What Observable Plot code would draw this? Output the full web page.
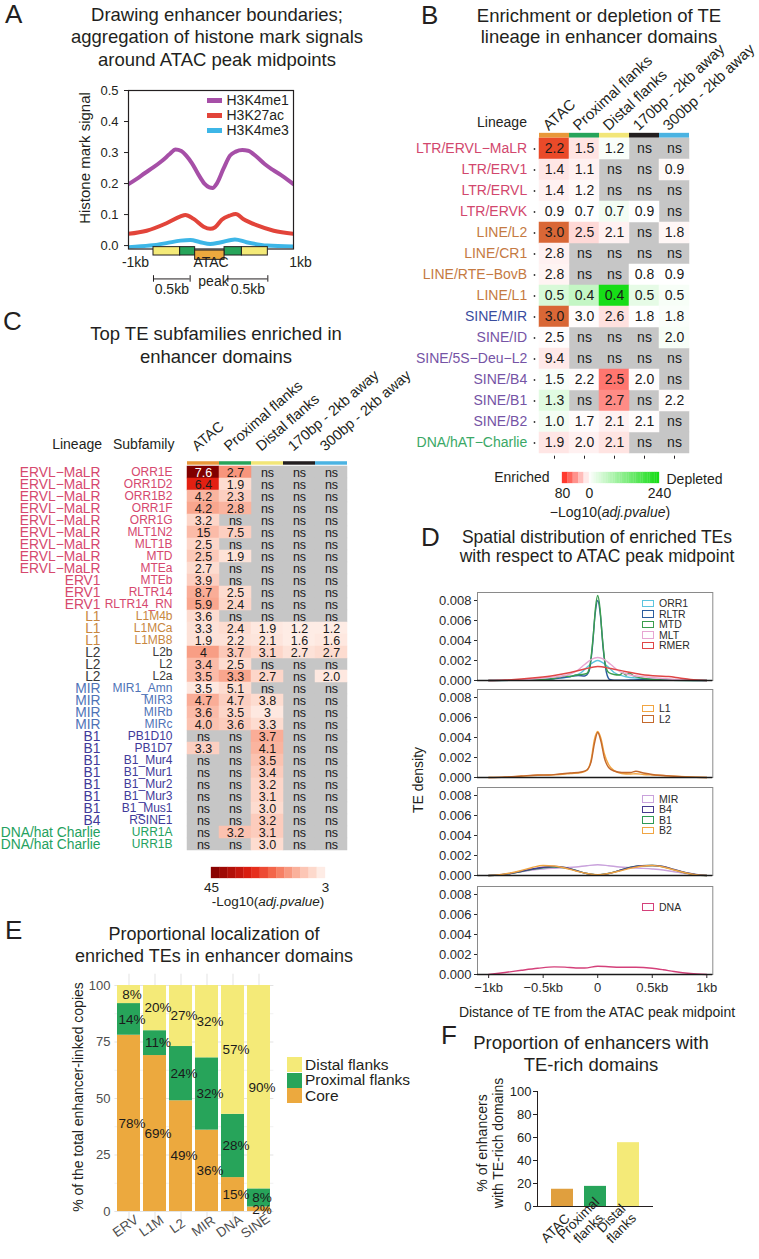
<!DOCTYPE html>
<html>
<head>
<meta charset="utf-8">
<script src="https://cdn.jsdelivr.net/npm/d3@7"></script>
<script src="https://cdn.jsdelivr.net/npm/@observablehq/plot@0.6"></script>
<style>
  html, body { margin: 0; padding: 0; background: #fff; }
  #fig { position: relative; width: 759px; height: 1259px; overflow: hidden; background: #fff;
         font-family: "Liberation Sans", Arial, Helvetica, sans-serif; color: #231f20; }
  #fig .lbl { position: absolute; white-space: nowrap; }
  #fig .holder { position: absolute; }
  #fig .holder svg { display: block; overflow: visible; }
</style>
</head>
<body>
<div id="fig"></div>
<script>
// ======================= DATA =======================
// --- Panel A: aggregate histone mark signal (x in kb from ATAC midpoint)
const me1X = [-1, -0.9, -0.8, -0.7, -0.6, -0.5, -0.43, -0.36, -0.3, -0.23, -0.15, -0.08, -0.02, 0.02, 0.07, 0.15, 0.23, 0.3, 0.38, 0.45, 0.55, 0.65, 0.75, 0.85, 0.93, 1];
const me1Y = [0.198, 0.215, 0.234, 0.252, 0.272, 0.295, 0.31, 0.305, 0.29, 0.265, 0.228, 0.2, 0.188, 0.186, 0.2, 0.247, 0.29, 0.303, 0.308, 0.306, 0.287, 0.263, 0.244, 0.227, 0.212, 0.198];
const k27X = [-1, -0.78, -0.54, -0.37, -0.31, -0.21, -0.09, -0.01, 0.05, 0.13, 0.23, 0.3, 0.39, 0.56, 0.76, 1];
const k27Y = [0.038, 0.048, 0.072, 0.094, 0.099, 0.086, 0.061, 0.054, 0.059, 0.083, 0.097, 0.102, 0.086, 0.065, 0.048, 0.038];
const me3X = [-1, -0.74, -0.54, -0.37, -0.25, -0.13, -0.01, 0.11, 0.29, 0.43, 0.68, 1];
const me3Y = [-0.005, 0, 0.008, 0.016, 0.018, 0.011, 0.005, 0.01, 0.02, 0.011, 0, -0.003];
const ticksYA = [0, 0.1, 0.2, 0.3, 0.4, 0.5];
const ticksXA = [-1, 1];
const tickLabelsA = ["-1kb", "1kb"];
// enhancer domain segments drawn under panel A (kb)
const segStartA = [-0.697, -0.374, -0.192, 0.164, 0.374];
const segEndA   = [-0.374, -0.192, 0.164, 0.374, 0.689];
const segPartA  = ["Distal", "Proximal", "Core", "Proximal", "Distal"];
const scaleBarStartA = [-0.697, 0.204];
const scaleBarEndA   = [-0.253, 0.689];

// --- Panel B: TE lineage enrichment heatmap
const colsB = ["ATAC", "Proximal flanks", "Distal flanks", "170bp - 2kb away", "300bp - 2kb away"];
const lineagesB = ["LTR/ERVL\u2212MaLR", "LTR/ERV1", "LTR/ERVL", "LTR/ERVK", "LINE/L2", "LINE/CR1", "LINE/RTE\u2212BovB", "LINE/L1",
  "SINE/MIR", "SINE/ID", "SINE/5S\u2212Deu\u2212L2", "SINE/B4", "SINE/B1", "SINE/B2", "DNA/hAT\u2212Charlie"];
const labelsB = [
  ["2.2", "1.5", "1.2", "ns", "ns"],
  ["1.4", "1.1", "ns", "ns", "0.9"],
  ["1.4", "1.2", "ns", "ns", "ns"],
  ["0.9", "0.7", "0.7", "0.9", "ns"],
  ["3.0", "2.5", "2.1", "ns", "1.8"],
  ["2.8", "ns", "ns", "ns", "ns"],
  ["2.8", "ns", "ns", "0.8", "0.9"],
  ["0.5", "0.4", "0.4", "0.5", "0.5"],
  ["3.0", "3.0", "2.6", "1.8", "1.8"],
  ["2.5", "ns", "ns", "ns", "2.0"],
  ["9.4", "ns", "ns", "ns", "ns"],
  ["1.5", "2.2", "2.5", "2.0", "ns"],
  ["1.3", "ns", "2.7", "ns", "2.2"],
  ["1.0", "1.7", "2.1", "2.1", "ns"],
  ["1.9", "2.0", "2.1", "ns", "ns"]
];
// signed -log10(adj.pvalue): positive = enriched, negative = depleted, null = ns
const scoresB = [
  [140, 10, -6, null, null],
  [9, 5, null, null, 2],
  [5, 2, null, null, null],
  [1, 0, -12, 0, null],
  [185, 14, 5, null, 3],
  [5, null, null, null, null],
  [4, null, null, 0, 0],
  [-40, -60, -235, -25, -8],
  [185, 1, 11, 0, -5],
  [1, null, null, null, -8],
  [8, null, null, null, null],
  [-6, 1, 50, 1, null],
  [-30, null, 42, null, 1],
  [-12, 1, 5, 1, null],
  [9, 5, 10, null, null]
];
const legendTicksB = [80, 0, -240];

// --- Panel C: top TE subfamilies
const lineageC = ["ERVL\u2212MaLR", "ERVL\u2212MaLR", "ERVL\u2212MaLR", "ERVL\u2212MaLR", "ERVL\u2212MaLR", "ERVL\u2212MaLR", "ERVL\u2212MaLR", "ERVL\u2212MaLR", "ERVL\u2212MaLR",
  "ERV1", "ERV1", "ERV1", "L1", "L1", "L1", "L2", "L2", "L2", "MIR", "MIR", "MIR", "MIR",
  "B1", "B1", "B1", "B1", "B1", "B1", "B1", "B4", "DNA/hat Charlie", "DNA/hat Charlie"];
const subfamC = ["ORR1E", "ORR1D2", "ORR1B2", "ORR1F", "ORR1G", "MLT1N2", "MLT1B", "MTD", "MTEa", "MTEb", "RLTR14", "RLTR14_RN",
  "L1M4b", "L1MCa", "L1MB8", "L2b", "L2", "L2a", "MIR1_Amn", "MIR3", "MIRb", "MIRc",
  "PB1D10", "PB1D7", "B1_Mur4", "B1_Mur1", "B1_Mur2", "B1_Mur3", "B1_Mus1", "RSINE1", "URR1A", "URR1B"];
const colsC = colsB;
const labelsC = [
  ["7.6", "2.7", "ns", "ns", "ns"], ["6.4", "1.9", "ns", "ns", "ns"], ["4.2", "2.3", "ns", "ns", "ns"], ["4.2", "2.8", "ns", "ns", "ns"],
  ["3.2", "ns", "ns", "ns", "ns"], ["15", "7.5", "ns", "ns", "ns"], ["2.5", "ns", "ns", "ns", "ns"], ["2.5", "1.9", "ns", "ns", "ns"],
  ["2.7", "ns", "ns", "ns", "ns"], ["3.9", "ns", "ns", "ns", "ns"], ["8.7", "2.5", "ns", "ns", "ns"], ["5.9", "2.4", "ns", "ns", "ns"],
  ["3.6", "ns", "ns", "ns", "ns"], ["3.3", "2.4", "1.9", "1.2", "1.2"], ["1.9", "2.2", "2.1", "1.6", "1.6"],
  ["4", "3.7", "3.1", "2.7", "2.7"], ["3.4", "2.5", "ns", "ns", "ns"], ["3.5", "3.3", "2.7", "ns", "2.0"],
  ["3.5", "5.1", "ns", "ns", "ns"], ["4.7", "4.7", "3.8", "ns", "ns"], ["3.6", "3.5", "3", "ns", "ns"], ["4.0", "3.6", "3.3", "ns", "ns"],
  ["ns", "ns", "3.7", "ns", "ns"], ["3.3", "ns", "4.1", "ns", "ns"], ["ns", "ns", "3.5", "ns", "ns"], ["ns", "ns", "3.4", "ns", "ns"],
  ["ns", "ns", "3.2", "ns", "ns"], ["ns", "ns", "3.1", "ns", "ns"], ["ns", "ns", "3.0", "ns", "ns"], ["ns", "ns", "3.2", "ns", "ns"],
  ["ns", "3.2", "3.1", "ns", "ns"], ["ns", "ns", "3.0", "ns", "ns"]
];
// -log10(adj.pvalue) read from the cell shading (null = ns)
const scoresC = [
  [45, 17, null, null, null], [30, 7, null, null, null], [13, 9, null, null, null], [15, 13, null, null, null],
  [8, null, null, null, null], [12, 9, null, null, null], [8, null, null, null, null], [10, 6, null, null, null],
  [7, null, null, null, null], [9, null, null, null, null], [14, 7, null, null, null], [15, 8, null, null, null],
  [7, null, null, null, null], [6, 7, 5, 4.5, 4.5], [6, 6, 5.5, 4.5, 5],
  [16, 10, 8, 6, 7], [12, 7, null, null, null], [12, 15, 8, null, 5],
  [5, 7, null, null, null], [14, 9, 7, null, null], [12, 8, 5, null, null], [11, 9.5, 7, null, null],
  [null, null, 14, null, null], [9, null, 13, null, null], [null, null, 11, null, null], [null, null, 9.5, null, null],
  [null, null, 8, null, null], [null, null, 8, null, null], [null, null, 7, null, null], [null, null, 9.5, null, null],
  [null, 11, 9.5, null, null], [null, null, 7, null, null]
];
const legendTicksC = [45, 3];

// --- Panel D: TE density around the ATAC midpoint (x in kb, density in 1e-3)
const orr1X = [-1, -0.6, -0.4, -0.25, -0.15, -0.08, 0, 0.08, 0.15, 0.25, 0.4, 0.6, 1];
const orr1Y = [0, 0.05, 0.2, 0.4, 0.8, 1.5, 2.0, 1.5, 0.8, 0.4, 0.2, 0.05, 0];
const rltrX = [-1, -0.6, -0.45, -0.35, -0.25, -0.18, -0.12, -0.08, -0.05, -0.025, 0, 0.025, 0.05, 0.08, 0.11, 0.15, 0.3, 0.5, 0.7, 1];
const rltrY = [0, 0.02, 0.1, 0.25, 0.4, 0.5, 0.45, 0.9, 3.2, 6.5, 8.0, 6.5, 3.2, 0.8, 0.1, 0.02, 0.05, 0.1, 0.05, 0];
const mtdX = [-1, -0.6, -0.5, -0.4, -0.35, -0.3, -0.25, -0.2, -0.15, -0.1, -0.07, -0.04, -0.02, 0, 0.02, 0.04, 0.07, 0.1, 0.15, 0.2, 0.23, 0.26, 0.29, 0.33, 0.4, 0.5, 0.6, 1];
const mtdY = [0, 0.05, 0.1, 0.2, 0.35, 0.45, 0.4, 0.55, 0.6, 0.7, 1.6, 4.6, 7.3, 8.5, 7.3, 4.6, 1.6, 0.8, 0.6, 0.55, 0.75, 0.55, 0.75, 0.45, 0.25, 0.1, 0.05, 0];
const mltX = [-1, -0.8, -0.6, -0.45, -0.3, -0.2, -0.12, -0.06, 0, 0.06, 0.12, 0.2, 0.3, 0.45, 0.6, 0.8, 1];
const mltY = [0, 0.05, 0.15, 0.3, 0.5, 0.9, 1.6, 2.1, 2.3, 2.1, 1.6, 0.9, 0.55, 0.35, 0.2, 0.05, 0];
const rmerX = [-1, -0.85, -0.7, -0.55, -0.4, -0.25, -0.12, 0, 0.12, 0.25, 0.4, 0.55, 0.65, 0.75, 0.85, 1];
const rmerY = [0, 0.05, 0.15, 0.3, 0.5, 0.8, 1.15, 1.4, 1.2, 0.9, 0.6, 0.45, 0.4, 0.25, 0.1, 0];
const l1X = [-1, -0.85, -0.7, -0.55, -0.45, -0.35, -0.25, -0.15, -0.1, -0.06, -0.03, 0, 0.03, 0.06, 0.1, 0.15, 0.22, 0.3, 0.35, 0.42, 0.5, 0.6, 0.7, 0.8, 0.9, 1];
const l1Y = [0, 0.04, 0.12, 0.22, 0.25, 0.3, 0.4, 0.5, 0.7, 1.8, 3.8, 4.6, 3.9, 2.4, 1.3, 0.7, 0.4, 0.35, 0.38, 0.3, 0.25, 0.2, 0.12, 0.08, 0.03, 0];
const l2X = [-1, -0.85, -0.7, -0.55, -0.45, -0.35, -0.25, -0.15, -0.1, -0.06, -0.03, 0, 0.03, 0.06, 0.1, 0.15, 0.22, 0.3, 0.35, 0.42, 0.5, 0.6, 0.7, 0.8, 0.9, 1];
const l2Y = [0, 0.05, 0.15, 0.25, 0.25, 0.35, 0.45, 0.55, 0.75, 1.6, 3.4, 4.5, 3.6, 2.0, 1.0, 0.65, 0.5, 0.5, 0.62, 0.45, 0.3, 0.2, 0.12, 0.06, 0.02, 0];
const gridD = [-1, -0.9, -0.8, -0.7, -0.6, -0.5, -0.4, -0.3, -0.2, -0.1, 0, 0.1, 0.2, 0.3, 0.4, 0.5, 0.6, 0.7, 0.8, 0.9, 1];
const mirY = [0, 0.08, 0.2, 0.38, 0.55, 0.65, 0.72, 0.78, 0.85, 0.98, 1.08, 0.98, 0.85, 0.78, 0.72, 0.65, 0.55, 0.38, 0.2, 0.08, 0];
const b4Y  = [0, 0.05, 0.2, 0.42, 0.65, 0.82, 0.9, 0.8, 0.5, 0.2, 0.05, 0.2, 0.5, 0.8, 0.97, 1.0, 0.9, 0.6, 0.3, 0.1, 0];
const b1Y  = [0, 0.05, 0.2, 0.4, 0.62, 0.78, 0.85, 0.78, 0.5, 0.2, 0.06, 0.2, 0.5, 0.82, 0.98, 1.0, 0.88, 0.58, 0.28, 0.08, 0];
const b2Y  = [0, 0.08, 0.25, 0.5, 0.8, 1.0, 0.95, 0.75, 0.45, 0.2, 0.08, 0.2, 0.45, 0.72, 0.93, 1.0, 0.85, 0.55, 0.28, 0.08, 0];
const dnaX = [-1, -0.85, -0.7, -0.55, -0.4, -0.3, -0.2, -0.12, 0, 0.1, 0.2, 0.35, 0.5, 0.6, 0.7, 0.85, 1];
const dnaY = [0, 0.2, 0.42, 0.62, 0.76, 0.74, 0.65, 0.65, 0.83, 0.78, 0.72, 0.73, 0.63, 0.48, 0.3, 0.1, 0];
const ticksYD = [0, 2, 4, 6, 8];
const ticksXD = [-1, -0.5, 0, 0.5, 1];
const tickLabelsXD = ["\u22121kb", "\u22120.5kb", "0", "0.5kb", "1kb"];

// --- Panel E: proportional localization (%)
const catsE = ["ERV", "L1M", "L2", "MIR", "DNA", "SINE"];
const coreE = [78, 69, 49, 36, 15, 2];
const proxE = [14, 11, 24, 32, 28, 8];
const distalE = [8, 20, 27, 32, 57, 90];
const partsE = ["Core", "Proximal flanks", "Distal flanks"];
const ticksYE = [0, 25, 50, 75, 100];

// --- Panel F: proportion of enhancers with TE-rich domains (%)
const catsF = ["ATAC", "Proximal flanks", "Distal flanks"];
const tickTextF = ["ATAC", "Proximal\nflanks", "Distal\nflanks"];
const valuesF = [15, 17.5, 55.5];
const ticksYF = [0, 20, 40, 60, 80, 100];

// ======================= STYLE / HELPERS =======================
const FONT = '"Liberation Sans", Arial, Helvetica, sans-serif';
const INK = "#231f20";
const fig = document.getElementById("fig");
const ST = (fs, color = INK) => ({fontFamily: FONT, fontSize: fs + "px", color, background: "transparent", overflow: "visible"});
const DOMAIN_COLORS = {Core: "#eca93e", Proximal: "#27a45a", Distal: "#f4ea78"};
const STRIP_COLORS = ["#e8983a", "#27a45a", "#f2e678", "#231f20", "#4bb3e2"];
const NS_GRAY = "#c6c6c6";

function place(node, left, top, width) {
  const h = document.createElement("div");
  h.className = "holder";
  h.style.left = left + "px"; h.style.top = top + "px"; h.style.width = width + "px";
  h.appendChild(node);
  fig.appendChild(h);
}
function label(html, x, y, o = {}) {
  const {size = 14, anchor = "middle", rotate = 0, color = INK, lh = 1.2} = o;
  const el = document.createElement("div");
  el.className = "lbl";
  el.innerHTML = html;
  const tx = anchor === "middle" ? "-50%" : anchor === "end" ? "-100%" : "0%";
  el.style.left = x + "px"; el.style.top = y + "px";
  el.style.fontSize = size + "px";
  el.style.lineHeight = typeof lh === "number" && lh < 4 ? String(lh) : lh + "px";
  el.style.color = color;
  el.style.textAlign = anchor === "middle" ? "center" : anchor === "end" ? "right" : "left";
  el.style.transform = `translate(${tx}, -50%)` + (rotate ? ` rotate(${rotate}deg)` : "");
  fig.appendChild(el);
}
function box(x, y, w, h, css) {
  const el = document.createElement("div");
  el.style.cssText = `position:absolute;left:${x}px;top:${y}px;width:${w}px;height:${h}px;box-sizing:border-box;${css}`;
  fig.appendChild(el);
}
const pts = (xs, ys) => xs.map((x, i) => ({x, y: ys[i]}));

// ======================= PANEL A =======================
{
  const segs = segStartA.map((s, i) => ({x1: s, x2: segEndA[i], part: segPartA[i]}));
  const bars = scaleBarStartA.map((s, i) => ({x1: s, x2: scaleBarEndA[i]}));
  const lineOpts = {x: "x", y: "y", strokeWidth: 4, curve: "monotone-x", clip: true};
  const p = Plot.plot({
    width: 260, height: 230, marginLeft: 68, marginRight: 27, marginTop: 10, marginBottom: 61.5,
    style: ST(13),
    x: {domain: [-1, 1], axis: null},
    y: {domain: [-0.011, 0.5], ticks: ticksYA, tickFormat: d3.format(".1f"), tickSize: 4, tickPadding: 6, label: null},
    marks: [
      Plot.line(pts(me3X, me3Y), {...lineOpts, stroke: "#3db6e7"}),
      Plot.line(pts(k27X, k27Y), {...lineOpts, stroke: "#e2443a"}),
      Plot.line(pts(me1X, me1Y), {...lineOpts, stroke: "#a64fa7"}),
      Plot.frame({stroke: INK, strokeWidth: 1.2}),
      ...["Distal", "Proximal"].map(part => Plot.rect(segs.filter(d => d.part === part),
        {x1: "x1", x2: "x2", y1: () => -0.005, y2: () => -0.032, fill: DOMAIN_COLORS[part], stroke: INK, strokeWidth: 1})),
      Plot.rect(segs.filter(d => d.part === "Core"),
        {x1: "x1", x2: "x2", y1: () => -0.016, y2: () => -0.046, fill: DOMAIN_COLORS.Core, stroke: INK, strokeWidth: 1}),
      Plot.text(tickLabelsA, {x: ticksXA, text: d => d, frameAnchor: "bottom", dy: 18, dx: 7, fontSize: 14}),
      Plot.text(["ATAC"], {x: () => 0, text: d => d, frameAnchor: "bottom", dy: 18, fontSize: 14}),
      Plot.text(["peak"], {x: () => 0.03, text: d => d, frameAnchor: "bottom", dy: 36.5, fontSize: 14}),
      Plot.ruleY(bars, {x1: "x1", x2: "x2", y: () => -0.1075, stroke: INK, strokeWidth: 1}),
      Plot.ruleX([...scaleBarStartA, ...scaleBarEndA], {x: d => d, y1: () => -0.097, y2: () => -0.118, stroke: INK, strokeWidth: 1}),
      Plot.text(bars, {x: d => (d.x1 + d.x2) / 2, text: () => "0.5kb", frameAnchor: "bottom", dy: 44.5, fontSize: 14})
    ]
  });
  place(p, 60, 80, 260);
  label("A", 5, 15, {size: 26, anchor: "start"});
  label("Drawing enhancer boundaries;<br>aggregation of histone mark signals<br>around ATAC peak midpoints", 217, 37.5, {size: 18.5, lh: 22.5});
  label("Histone mark signal", 85, 158, {size: 15, rotate: -90});
  [["H3K4me1", "#a64fa7", 100], ["H3K27ac", "#e2443a", 115], ["H3K4me3", "#3db6e7", 130]].forEach(([t, c, y]) => {
    box(207, y - 2, 15, 4.5, `background:${c};`);
    label(t, 226.5, y, {size: 14, anchor: "start"});
  });
}

// ======================= PANEL B =======================
const colorB = {type: "linear", domain: [-240, 0, 80, 200], range: ["#12dc12", "#ffffff", "#ff2418", "#d4703a"], interpolate: "rgb", clamp: true};
{
  const rowH = 21.33;
  const cells = lineagesB.flatMap((r, i) => colsB.map((c, j) => ({row: r, col: c, label: labelsB[i][j], score: scoresB[i][j]})));
  const classColor = name => name.startsWith("LTR") ? "#d2476d" : name.startsWith("LINE") ? "#c57a42"
    : name === "SINE/MIR" ? "#3a4c9e" : name.startsWith("SINE") ? "#7553a5" : "#3aa866";
  const groups = d3.groups(lineagesB, classColor);
  const p = Plot.plot({
    width: 379, height: 466, marginLeft: 158, marginRight: 69, marginTop: 135.7 - rowH, marginBottom: 466 - 455.7,
    style: ST(14),
    x: {domain: colsB, padding: 0, axis: "bottom", tickSize: 3, tickFormat: () => "", label: null},
    y: {domain: ["__strip", ...lineagesB], padding: 0, axis: null},
    color: colorB,
    marks: [
      ...colsB.map((c, j) => Plot.cell([c], {x: d => d, y: () => "__strip", fill: STRIP_COLORS[j], insetTop: rowH - 5.5, insetBottom: 0.3})),
      Plot.cell(cells.filter(d => d.score === null), {x: "col", y: "row", fill: NS_GRAY, stroke: NS_GRAY, strokeWidth: 0.5}),
      Plot.cell(cells.filter(d => d.score !== null), {x: "col", y: "row", fill: "score", stroke: "score", strokeWidth: 0.5}),
      Plot.text(cells, {x: "col", y: "row", text: "label", fontSize: 14, fill: "#1a1a1a"}),
      ...groups.map(([col, names]) => Plot.text(names, {y: d => d, text: d => d, frameAnchor: "left", dx: -11.3, textAnchor: "end", fill: col, fontSize: 14})),
      Plot.dot(lineagesB, {y: d => d, frameAnchor: "left", dx: -4, r: 0.9, fill: "#333", stroke: null}),
      Plot.text(colsB, {x: d => d, text: d => d, frameAnchor: "top", dx: -13, dy: 8.6, rotate: -43, textAnchor: "start", fontSize: 15, fill: INK})
    ]
  });
  place(p, 380, 0, 379);
  label("B", 421, 16, {size: 26, anchor: "start"});
  label("Enrichment or depletion of TE<br>lineage in enhancer domains", 599, 26, {size: 18.5, lh: 21});
  label("Lineage", 502, 122, {size: 14});

  // legend ramp
  const ramp = [
    ...d3.range(80, 0, -16).map(v => ({a: v, b: v - 16, v: v - 8})),
    ...d3.range(0, -240, -8).map(v => ({a: v, b: v - 8, v: v - 4}))
  ];
  const leg = Plot.plot({
    width: 379, height: 42, marginLeft: 0, marginRight: 0, marginTop: 10, marginBottom: 21,
    style: ST(14),
    x: {type: "linear", domain: legendTicksB, range: [182, 209, 279], ticks: legendTicksB, tickFormat: d => String(Math.abs(d)), tickSize: 0, tickPadding: 5, label: null},
    y: {domain: [0, 1], axis: null},
    color: colorB,
    marks: [
      Plot.rect(ramp, {x1: "a", x2: "b", y1: () => 0, y2: () => 1, fill: "v", stroke: "v", strokeWidth: 0.3}),
      Plot.text(["Enriched"], {x: () => 80, text: d => d, frameAnchor: "middle", dx: -13, textAnchor: "end", fontSize: 14}),
      Plot.text(["Depleted"], {x: () => -240, text: d => d, frameAnchor: "middle", dx: 7, dy: 2, textAnchor: "start", fontSize: 14})
    ]
  });
  place(leg, 380, 462, 379);
  label("\u2212Log10(<i>adj.pvalue</i>)", 610, 512, {size: 14});
}

// ======================= PANEL C =======================
const colorC = {type: "linear", domain: [3, 6, 10, 15, 22, 30, 45],
  range: ["#fff5f1", "#fde2d8", "#fcc9b9", "#f9a68e", "#f46b4e", "#e32012", "#800000"], interpolate: "rgb", clamp: true};
{
  const rowH = 12.43;
  const rows = subfamC.map((s, i) => ({sub: s, lin: lineageC[i]}));
  const cells = subfamC.flatMap((r, i) => colsC.map((c, j) => ({row: r, col: c, label: labelsC[i][j], score: scoresC[i][j]})));
  const linColor = l => l.startsWith("ERV") ? "#d6486e" : l === "L1" ? "#c8873f" : l === "L2" ? "#3a3a3a"
    : l === "MIR" ? "#4f73b7" : l.startsWith("B") ? "#413a9a" : "#24a160";
  const groups = d3.groups(rows, d => linColor(d.lin));
  const p = Plot.plot({
    width: 380, height: 490, marginLeft: 186, marginRight: 33, marginTop: 459.5 - rowH - 380, marginBottom: 490 - (459.5 + 32 * rowH - 380),
    style: ST(12.5),
    x: {domain: colsC, padding: 0, axis: null},
    y: {domain: ["__strip", ...subfamC], padding: 0, axis: null},
    color: colorC,
    marks: [
      ...colsC.map((c, j) => Plot.cell([c], {x: d => d, y: () => "__strip", fill: STRIP_COLORS[j], insetTop: rowH - 5.2, insetBottom: 1.3})),
      Plot.cell(cells.filter(d => d.score === null), {x: "col", y: "row", fill: NS_GRAY, stroke: NS_GRAY, strokeWidth: 0.5}),
      Plot.cell(cells.filter(d => d.score !== null), {x: "col", y: "row", fill: "score", stroke: "score", strokeWidth: 0.5}),
      Plot.text(cells.filter(d => !(d.score >= 35)), {x: "col", y: "row", text: "label", fontSize: 12.5, fill: "#1a1a1a"}),
      Plot.text(cells.filter(d => d.score >= 35), {x: "col", y: "row", text: "label", fontSize: 12.5, fill: "#ffffff"}),
      ...groups.map(([col, rs]) => Plot.text(rs, {y: "sub", text: "lin", frameAnchor: "left", dx: -86, textAnchor: "end", fill: col, fontSize: 13.8})),
      ...groups.map(([col, rs]) => Plot.text(rs, {y: "sub", text: "sub", frameAnchor: "left", dx: -14, textAnchor: "end", fill: col, fontSize: 12})),
      Plot.text(colsC, {x: d => d, text: d => d, frameAnchor: "top", dx: -13, dy: -3.6, rotate: -41, textAnchor: "start", fontSize: 14.5, fill: INK})
    ]
  });
  place(p, 0, 380, 380);
  label("C", 3, 322, {size: 26, anchor: "start"});
  label("Top TE subfamilies enriched in<br>enhancer domains", 216, 345, {size: 18.5, lh: 23.3});
  label("Lineage", 102, 444, {size: 14, anchor: "end"});
  label("Subfamily", 113, 444, {size: 14, anchor: "start"});

  const ramp = d3.range(45, 3, -3).map(v => ({a: v, b: v - 3, v: v - 1.5}));
  const leg = Plot.plot({
    width: 380, height: 40, marginLeft: 0, marginRight: 0, marginTop: 7, marginBottom: 22,
    style: ST(13.5),
    x: {domain: [45, 3], range: [211, 325], ticks: legendTicksC, tickFormat: d => String(d), tickSize: 0, tickPadding: 4, label: null},
    y: {domain: [0, 1], axis: null},
    color: colorC,
    marks: [Plot.rect(ramp, {x1: "a", x2: "b", y1: () => 0, y2: () => 1, fill: "v", stroke: "v", strokeWidth: 0.3})]
  });
  place(leg, 0, 860, 380);
  label("-Log10(<i>adj.pvalue</i>)", 268, 902, {size: 13.5});
}

// ======================= PANEL D =======================
{
  const colorD = {ORR1: "#5cc4de", RLTR: "#2b5d9e", MTD: "#3a9d4e", MLT: "#e7a6d2", RMER: "#e04646",
    L1: "#f2a541", L2: "#c4692c", MIR: "#c9a2dc", B4: "#473a8f", B1: "#2f9a55", B2: "#f0a543", DNA: "#d4407a"};
  const panels = [
    {series: [["ORR1", orr1X, orr1Y], ["RLTR", rltrX, rltrY], ["MTD", mtdX, mtdY], ["MLT", mltX, mltY], ["RMER", rmerX, rmerY]], legend: ["ORR1", "RLTR", "MTD", "MLT", "RMER"], ly: 603},
    {series: [["L1", l1X, l1Y], ["L2", l2X, l2Y]], legend: ["L1", "L2"], ly: 708},
    {series: [["MIR", gridD, mirY], ["B1", gridD, b1Y], ["B4", gridD, b4Y], ["B2", gridD, b2Y]], legend: ["MIR", "B4", "B1", "B2"], ly: 798.5},
    {series: [["DNA", dnaX, dnaY]], legend: ["DNA"], ly: 906.5}
  ];
  const tops = [590, 687, 785, 884];
  panels.forEach((pn, k) => {
    const last = k === panels.length - 1;
    const p = Plot.plot({
      width: 379, height: last ? 120 : 94, marginLeft: 97, marginRight: 46.7, marginTop: 2, marginBottom: last ? 30 : 4,
      style: ST(13, "#2b2b2b"),
      x: {domain: [-1.102, 1.055], axis: last ? "bottom" : null, ticks: ticksXD, tickFormat: d => tickLabelsXD[ticksXD.indexOf(d)], tickSize: 4, tickPadding: 4, label: null},
      y: {domain: [0, 8.8], ticks: ticksYD, tickFormat: d => (d / 1000).toFixed(3), tickSize: 3, tickPadding: 3, label: null},
      marks: [
        Plot.frame({stroke: "#8a8a8a"}),
        ...pn.series.map(([name, xs, ys]) => Plot.line(pts(xs, ys), {x: "x", y: "y", stroke: colorD[name], strokeWidth: 1.4, curve: "monotone-x"})),
        Plot.ruleY([0], {stroke: "#1a1a1a", strokeWidth: 1.5})
      ]
    });
    place(p, 380, tops[k], 379);
    pn.legend.forEach((name, i) => {
      const y = pn.ly + i * 10.5;
      box(641.5, y - 3.5, 12, 7.5, `border:1.3px solid ${colorD[name]};`);
      label(name, 659, y, {size: 10.5, anchor: "start", color: "#2b2b2b"});
    });
  });
  label("D", 421, 538, {size: 26, anchor: "start"});
  label("Spatial distribution of enriched TEs<br>with respect to ATAC peak midpoint", 597, 546.5, {size: 17.5, lh: 19});
  label("TE density", 418, 780, {size: 14, rotate: -90});
  label("Distance of TE from the ATAC peak midpoint", 597, 1012, {size: 14});
}

// ======================= PANEL E =======================
{
  const stack = catsE.flatMap((c, i) => [
    {cat: c, part: partsE[0], pct: coreE[i]},
    {cat: c, part: partsE[1], pct: proxE[i]},
    {cat: c, part: partsE[2], pct: distalE[i]}
  ]);
  const p = Plot.plot({
    width: 380, height: 299, marginLeft: 114.4, marginRight: 106.6, marginTop: 13.7, marginBottom: 36.7,
    style: ST(13, "#4d4d4d"),
    x: {domain: catsE, padding: 0.1, axis: null},
    y: {domain: [-5, 105], ticks: ticksYE, tickSize: 0, tickPadding: 4.5, label: null},
    color: {domain: partsE, range: [DOMAIN_COLORS.Core, DOMAIN_COLORS.Proximal, DOMAIN_COLORS.Distal]},
    marks: [
      Plot.ruleY([12.5, 37.5, 62.5, 87.5], {y: d => d, stroke: "#f1f1f1"}),
      Plot.ruleY(ticksYE, {y: d => d, stroke: "#e3e3e3"}),
      Plot.ruleX(catsE, {x: d => d, stroke: "#e3e3e3"}),
      Plot.barY(stack, {x: "cat", y: "pct", fill: "part"}),
      Plot.text(stack, Plot.stackY({x: "cat", y: "pct", text: d => d.pct + "%", fontSize: 13.5, dx: 3, fill: "#1a1a1a"})),
      Plot.text(catsE, {x: d => d, text: d => d, frameAnchor: "bottom", rotate: -35, dy: 7, dx: -1, fontSize: 13.5, fill: "#4d4d4d"})
    ]
  });
  place(p, 0, 960, 380);
  label("E", 5, 931, {size: 26, anchor: "start"});
  label("Proportional localization of<br>enriched TEs in enhancer domains", 214, 946, {size: 18, lh: 21.7});
  label("% of the total enhancer-linked copies", 78, 1097, {size: 14, rotate: -90});
  [["Distal flanks", DOMAIN_COLORS.Distal, 1057], ["Proximal flanks", DOMAIN_COLORS.Proximal, 1072.5], ["Core", DOMAIN_COLORS.Core, 1088]].forEach(([t, c, y]) => {
    box(287, y, 15, 15, `background:${c};`);
    label(t, 305, y + 7.5, {size: 15.5, anchor: "start"});
  });
}

// ======================= PANEL F =======================
{
  const data = catsF.map((c, i) => ({cat: c, value: valuesF[i], tick: tickTextF[i]}));
  const p = Plot.plot({
    width: 379, height: 179, marginLeft: 157, marginRight: 106, marginTop: 11, marginBottom: 53,
    style: ST(13),
    x: {domain: catsF, paddingInner: 0.34, paddingOuter: 0.4, axis: null},
    y: {domain: [0, 100], ticks: ticksYF, tickSize: 4, tickPadding: 2, line: true, label: null},
    color: {domain: catsF, range: ["#e09f3e", "#27a45a", "#f4ea78"]},
    marks: [
      Plot.barY(data, {x: "cat", y: "value", fill: "cat"}),
      Plot.ruleY([0], {stroke: INK, strokeWidth: 1.2}),
      Plot.text(data, {x: "cat", text: "tick", frameAnchor: "bottom", rotate: -45, dy: 25, dx: -4, fontSize: 13.5, lineHeight: 1.05, fill: INK})
    ]
  });
  place(p, 380, 1080, 379);
  label("F", 441, 1036, {size: 26, anchor: "start"});
  label("Proportion of enhancers with<br>TE-rich domains", 591, 1054, {size: 18.5, lh: 22});
  label("% of enhancers<br>with TE-rich domains", 490, 1143, {size: 14, rotate: -90, lh: 16});
}
</script>
</body>
</html>
